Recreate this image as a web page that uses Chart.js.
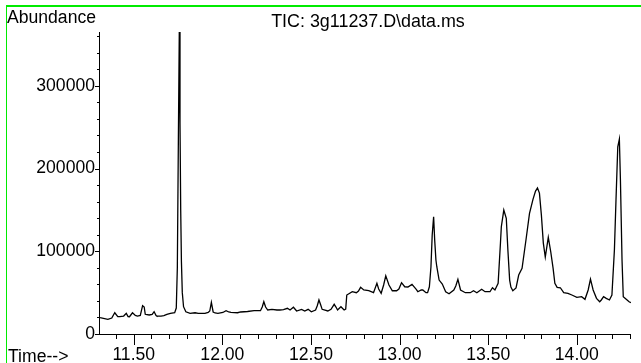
<!DOCTYPE html>
<html>
<head>
<meta charset="utf-8">
<script src="https://cdn.jsdelivr.net/npm/chart.js@4/dist/chart.umd.min.js"></script>
<style>
  html, body { margin: 0; padding: 0; background: #fff; overflow: hidden; }
  #wrap { position: relative; width: 641px; height: 363px; overflow: hidden; }
  canvas { display: block; }
  /* green frame running along the top and left edges */
  #frame {
    position: absolute; left: 6px; top: 5px; width: 700px; height: 400px;
    border-top: 2px solid rgb(0,235,0); border-left: 1px solid rgb(0,235,0);
    pointer-events: none;
  }
</style>
</head>
<body>
<div id="wrap">
  <canvas id="tic" width="641" height="363"></canvas>
  <div id="frame"></div>
</div>
<script>
// Total ion chromatogram: retention time (min) against abundance
const retentionTimes = [
  11.310, 11.354, 11.376, 11.393, 11.410, 11.421, 11.443, 11.458, 11.468, 11.476,
  11.493, 11.509, 11.521, 11.537, 11.550, 11.559, 11.565, 11.587, 11.604, 11.615,
  11.626, 11.631, 11.654, 11.670, 11.687, 11.707, 11.731, 11.740, 11.746, 11.752,
  11.757, 11.761, 11.765, 11.769, 11.774, 11.781, 11.794, 11.818, 11.846, 11.864,
  11.902, 11.920, 11.929, 11.938, 11.948, 11.959, 11.975, 12.003, 12.021, 12.036,
  12.049, 12.086, 12.103, 12.123, 12.142, 12.179, 12.215, 12.225, 12.234, 12.244,
  12.256, 12.280, 12.308, 12.325, 12.345, 12.367, 12.382, 12.401, 12.419, 12.447,
  12.465, 12.484, 12.502, 12.526, 12.535, 12.545, 12.555, 12.563, 12.595, 12.613,
  12.631, 12.641, 12.650, 12.669, 12.687, 12.696, 12.702, 12.733, 12.756, 12.768,
  12.780, 12.798, 12.826, 12.853, 12.872, 12.882, 12.896, 12.910, 12.922, 12.940,
  12.959, 12.983, 12.996, 13.011, 13.029, 13.047, 13.070, 13.094, 13.103, 13.122,
  13.131, 13.149, 13.158, 13.168, 13.177, 13.184, 13.192, 13.198, 13.205, 13.210,
  13.223, 13.241, 13.260, 13.279, 13.306, 13.317, 13.329, 13.344, 13.371, 13.399,
  13.417, 13.436, 13.463, 13.482, 13.510, 13.524, 13.538, 13.556, 13.569, 13.574,
  13.588, 13.602, 13.611, 13.621, 13.628, 13.639, 13.657, 13.672, 13.691, 13.713,
  13.733, 13.753, 13.767, 13.778, 13.789, 13.800, 13.811, 13.822, 13.839, 13.853,
  13.866, 13.876, 13.889, 13.907, 13.926, 13.950, 13.972, 14.000, 14.027, 14.046,
  14.064, 14.077, 14.092, 14.111, 14.129, 14.138, 14.151, 14.166, 14.184, 14.198,
  14.212, 14.221, 14.231, 14.240, 14.246, 14.255, 14.262, 14.277, 14.295, 14.305
];
const abundances = [
  19700, 17800, 19300, 25700, 21100, 20900, 21700, 25000, 21100, 20900,
  25700, 22400, 21700, 22400, 34200, 32600, 23800, 23000, 23600, 26900,
  22400, 21700, 21700, 22100, 23600, 25000, 25700, 31400, 80000, 240000,
  365000, 255000, 150000, 88000, 50000, 33000, 26900, 25000, 25700, 25000,
  25000, 26000, 27800, 38300, 26600, 25400, 25000, 26000, 28200, 26600,
  26200, 25700, 26600, 26900, 27200, 28200, 28200, 32600, 39000, 32600,
  29000, 29800, 29000, 29000, 29400, 31100, 29000, 32300, 27800, 29800,
  27800, 29800, 26900, 29000, 33800, 41100, 35000, 29800, 27800, 29800,
  35900, 32600, 29000, 33000, 29000, 30200, 47100, 51100, 49900, 51900,
  56400, 53200, 52300, 49900, 61300, 54400, 49200, 59200, 70400, 59200,
  52300, 52300, 54400, 62000, 57100, 56800, 60000, 54000, 51100, 53200,
  53200, 49900, 49900, 57100, 81300, 119600, 141700, 113600, 89400, 81300,
  65200, 60400, 51100, 48600, 53200, 58000, 66100, 53200, 49900, 49900,
  52300, 49900, 54000, 51100, 51100, 55900, 53200, 61300, 109600, 129600,
  149800, 139800, 101500, 65200, 56800, 52300, 55600, 71300, 79400, 113600,
  145800, 163100, 172700, 176400, 170300, 143800, 109900, 93000, 116800, 99100,
  79700, 61300, 56400, 55900, 49900, 49200, 47100, 44300, 45100, 41900,
  53200, 66400, 53200, 43100, 39000, 41100, 45100, 43100, 41100, 47100,
  101500, 161900, 226300, 235600, 186000, 89400, 45100, 42300, 39000, 37800
];

// Axis ranges and tick marks
const timeRange = [11.304, 14.305];
const abundanceMax = 365000;
const xMajorTicks = [11.5, 12.0, 12.5, 13.0, 13.5, 14.0];
const xMinorStep = 0.1;
const yMajorTicks = [0, 100000, 200000, 300000];
const yMinorStep = 20000;

const titleText = 'TIC: 3g11237.D\\data.ms';
const yAxisName = 'Abundance';
const xAxisName = 'Time-->';

const FONT_FAMILY = "'Liberation Sans', Arial, sans-serif";
const FONT_SIZE = 17.6;

function isMajor(value, majors) {
  return majors.some(m => Math.abs(m - value) < 1e-6);
}

function stepTicks(min, max, step) {
  const out = [];
  for (let k = Math.ceil(min / step - 1e-9); k * step <= max + 1e-9; k++) {
    out.push({ value: Math.round(k * step * 1000) / 1000 });
  }
  return out;
}

// Tick marks and free text drawn on top of the chart
const decorations = {
  id: 'decorations',
  afterDraw(chart) {
    const ctx = chart.ctx;
    const xs = chart.scales.x;
    const ys = chart.scales.y;
    const area = chart.chartArea;
    ctx.save();
    ctx.strokeStyle = '#000';
    ctx.lineWidth = 1;
    ctx.beginPath();
    xs.ticks.forEach(t => {
      const px = Math.round(xs.getPixelForValue(t.value)) + 0.5;
      const len = isMajor(t.value, xMajorTicks) ? 11 : 5;
      ctx.moveTo(px, area.bottom);
      ctx.lineTo(px, area.bottom + len);
    });
    ys.ticks.forEach(t => {
      const py = Math.round(ys.getPixelForValue(t.value)) + 0.5;
      const len = isMajor(t.value, yMajorTicks) ? 4 : 2;
      ctx.moveTo(area.left, py);
      ctx.lineTo(area.left - len, py);
    });
    ctx.stroke();

    ctx.fillStyle = '#000';
    ctx.font = FONT_SIZE + 'px ' + FONT_FAMILY;
    ctx.textBaseline = 'alphabetic';
    ctx.textAlign = 'left';
    ctx.fillText(yAxisName, 7, 22.5);
    ctx.fillText(xAxisName, 8, 361.5);
    ctx.font = '17.9px ' + FONT_FAMILY;
    ctx.textAlign = 'center';
    ctx.fillText(titleText, (area.left + area.right) / 2 + 3, 26.5);
    ctx.restore();
  }
};

new Chart(document.getElementById('tic'), {
  type: 'line',
  data: {
    datasets: [{
      data: retentionTimes.map((t, i) => ({ x: t, y: abundances[i] })),
      borderColor: '#000',
      borderWidth: 1.3,
      pointRadius: 0,
      tension: 0,
      fill: false
    }]
  },
  options: {
    responsive: false,
    animation: false,
    devicePixelRatio: 1,
    layout: { padding: { top: 32, right: 1, left: 0, bottom: 0 } },
    plugins: {
      legend: { display: false },
      title: { display: false },
      tooltip: { enabled: false }
    },
    scales: {
      x: {
        type: 'linear',
        min: timeRange[0],
        max: timeRange[1],
        grid: { display: false, drawTicks: false },
        border: { display: true, color: '#000', width: 1 },
        afterBuildTicks(scale) {
          scale.ticks = stepTicks(timeRange[0], timeRange[1], xMinorStep);
        },
        afterFit(scale) { scale.height = 29; },
        ticks: {
          autoSkip: false,
          maxRotation: 0,
          minRotation: 0,
          padding: 11,
          color: '#000',
          font: { family: FONT_FAMILY, size: FONT_SIZE },
          callback: v => isMajor(v, xMajorTicks) ? v.toFixed(2) : ''
        }
      },
      y: {
        type: 'linear',
        min: 0,
        max: abundanceMax,
        grid: { display: false, drawTicks: false },
        border: { display: true, color: '#000', width: 1 },
        afterBuildTicks(scale) {
          scale.ticks = stepTicks(0, abundanceMax, yMinorStep);
        },
        afterFit(scale) { scale.width = 99; },
        ticks: {
          autoSkip: false,
          padding: 4,
          color: '#000',
          font: { family: FONT_FAMILY, size: FONT_SIZE },
          callback: v => isMajor(v, yMajorTicks) ? String(v) : ''
        }
      }
    }
  },
  plugins: [decorations]
});
</script>
</body>
</html>
